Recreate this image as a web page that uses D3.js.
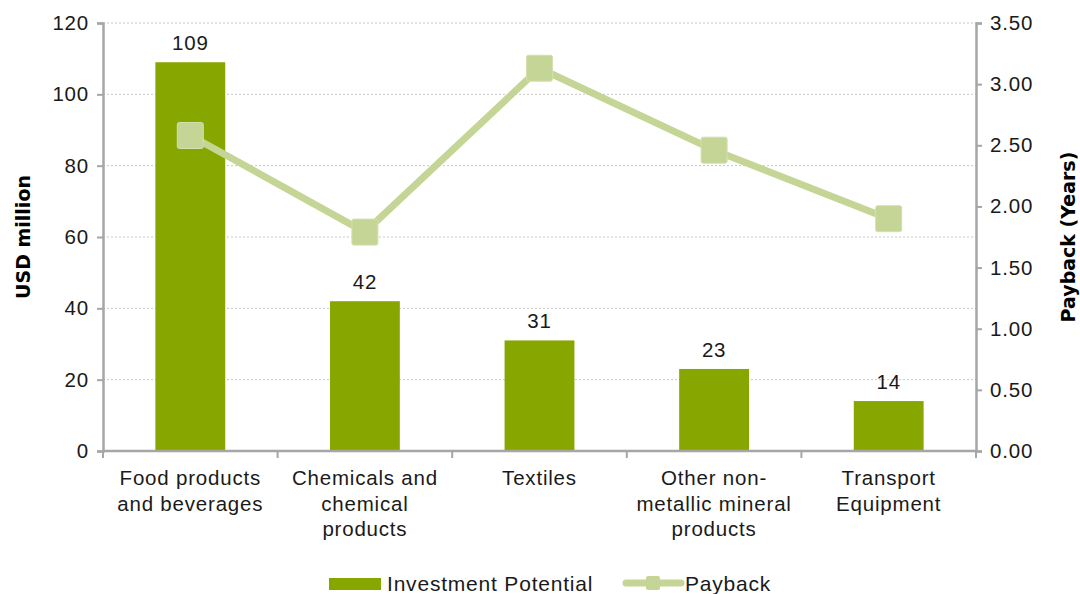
<!DOCTYPE html>
<html>
<head>
<meta charset="utf-8">
<script src="https://cdn.jsdelivr.net/npm/d3@7"></script>
<style>
  html, body { margin: 0; padding: 0; background: #fff; }
  svg { display: block; font-family: "Liberation Sans", Arial, sans-serif; }
  .lbl { font-family: "Liberation Sans", Arial, sans-serif; letter-spacing: 0.8px; }
</style>
</head>
<body>
<svg id="chart" width="1080" height="594"></svg>
<script>
const categories = [
  ["Food products", "and beverages"],
  ["Chemicals and", "chemical", "products"],
  ["Textiles"],
  ["Other non-", "metallic mineral", "products"],
  ["Transport", "Equipment"]
];
const investment = [109, 42, 31, 23, 14];
const payback = [2.58, 1.79, 3.13, 2.46, 1.90];
const leftTicks = [0, 20, 40, 60, 80, 100, 120];
const rightTicks = [0, 0.5, 1, 1.5, 2, 2.5, 3, 3.5];

const svg = d3.select("#chart");
const x0 = 103, x1 = 976, yTop = 23, yBot = 451;
const barColor = "#88a600", lineColor = "#c4d595", axisColor = "#a6a6a6";

const x = d3.scaleBand().domain(d3.range(categories.length)).range([x0, x1]).paddingInner(0.6).paddingOuter(0.3);
const yL = d3.scaleLinear().domain([0, 120]).range([yBot, yTop]);
const yR = d3.scaleLinear().domain([0, 3.5]).range([yBot, yTop]);

// gridlines
svg.append("g").selectAll("line").data(leftTicks.filter(d => d > 0)).join("line")
  .attr("x1", x0).attr("x2", x1)
  .attr("y1", d => yL(d)).attr("y2", d => yL(d))
  .attr("stroke", "#c8c8c8").attr("stroke-width", 1).attr("stroke-dasharray", "2,2");

// bars
svg.append("g").selectAll("rect").data(investment).join("rect")
  .attr("x", (d, i) => x(i)).attr("width", x.bandwidth())
  .attr("y", d => yL(d)).attr("height", d => yBot - yL(d))
  .attr("fill", barColor);

// bar value labels
svg.append("g").selectAll("text").data(investment).join("text")
  .attr("class", "lbl")
  .attr("x", (d, i) => x(i) + x.bandwidth() / 2)
  .attr("y", d => yL(d) - 12)
  .attr("text-anchor", "middle").attr("font-size", 20.5).attr("fill", "#1a1a1a")
  .text(d => d);

// left axis
const gL = svg.append("g").attr("transform", `translate(${x0},0)`)
  .call(d3.axisLeft(yL).tickValues(leftTicks).tickSize(6).tickPadding(8));
// right axis
const gR = svg.append("g").attr("transform", `translate(${x1},0)`)
  .call(d3.axisRight(yR).tickValues(rightTicks).tickSize(6).tickPadding(8).tickFormat(d3.format(".2f")));
[gL, gR].forEach(g => {
  g.select(".domain").attr("stroke", axisColor).attr("stroke-width", 2.5);
  g.selectAll(".tick line").attr("stroke", axisColor).attr("stroke-width", 2);
  g.selectAll(".tick text").attr("class", "lbl").attr("font-size", 20.5).attr("fill", "#1a1a1a");
});

// x axis baseline and category separators
const gX = svg.append("g");
gX.append("line").attr("x1", x0).attr("x2", x1).attr("y1", yBot).attr("y2", yBot)
  .attr("stroke", axisColor).attr("stroke-width", 2.5);
const seps = d3.range(categories.length + 1).map(i => x0 + i * (x1 - x0) / categories.length);
gX.selectAll("line.sep").data(seps).join("line").attr("class", "sep")
  .attr("x1", d => d).attr("x2", d => d).attr("y1", yBot).attr("y2", yBot + 7)
  .attr("stroke", axisColor).attr("stroke-width", 2);

// category labels
const catG = svg.append("g").selectAll("text").data(categories).join("text")
  .attr("class", "lbl")
  .attr("x", (d, i) => x(i) + x.bandwidth() / 2)
  .attr("y", 485)
  .attr("text-anchor", "middle").attr("font-size", 20.5).attr("fill", "#1a1a1a");
catG.selectAll("tspan").data(d => d).join("tspan")
  .attr("x", function() { return d3.select(this.parentNode).attr("x"); })
  .attr("dy", (d, i) => i === 0 ? 0 : 25.5)
  .text(d => d);

// payback line
const line = d3.line().x((d, i) => x(i) + x.bandwidth() / 2).y(d => yR(d));
svg.append("path").datum(payback).attr("d", line)
  .attr("fill", "none").attr("stroke", lineColor).attr("stroke-width", 7).attr("stroke-linejoin", "round");
svg.append("g").selectAll("rect").data(payback).join("rect")
  .attr("x", (d, i) => x(i) + x.bandwidth() / 2 - 13)
  .attr("y", d => yR(d) - 13)
  .attr("width", 26).attr("height", 26).attr("rx", 2)
  .attr("fill", lineColor).attr("stroke", "#d3e0ad").attr("stroke-width", 1);

// axis titles
svg.append("text").attr("transform", "translate(30,237) rotate(-90)")
  .attr("text-anchor", "middle").attr("font-size", 19).attr("font-weight", "bold").attr("fill", "#000")
  .attr("font-family", "DejaVu Sans, sans-serif")
  .text("USD million");
svg.append("text").attr("transform", "translate(1075,237) rotate(-90)")
  .attr("text-anchor", "middle").attr("font-size", 19).attr("font-weight", "bold").attr("fill", "#000")
  .attr("font-family", "DejaVu Sans, sans-serif")
  .text("Payback (Years)");

// legend
const lg = svg.append("g");
lg.append("rect").attr("x", 329).attr("y", 578).attr("width", 52).attr("height", 12).attr("fill", barColor);
lg.append("text").attr("class", "lbl").attr("x", 387).attr("y", 591).attr("font-size", 21).attr("fill", "#1a1a1a").text("Investment Potential");
lg.append("line").attr("x1", 626).attr("x2", 681).attr("y1", 583).attr("y2", 583)
  .attr("stroke", lineColor).attr("stroke-width", 7).attr("stroke-linecap", "round");
lg.append("rect").attr("x", 646).attr("y", 576).attr("width", 14).attr("height", 14).attr("rx", 2).attr("fill", lineColor);
lg.append("text").attr("class", "lbl").attr("x", 685).attr("y", 591).attr("font-size", 21).attr("fill", "#1a1a1a").text("Payback");
</script>
</body>
</html>
